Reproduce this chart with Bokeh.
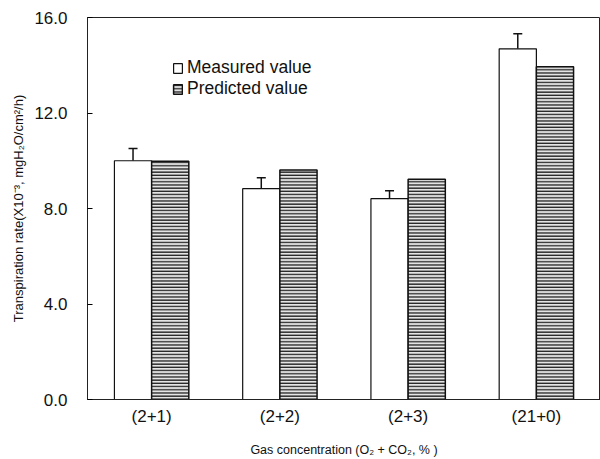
from bokeh.plotting import figure
from bokeh.models import (ColumnDataSource, Range1d, FixedTicker, Whisker, TeeHead,
                          Legend, LegendItem, PrintfTickFormatter)
from bokeh.embed import file_html
from bokeh.resources import INLINE

categories = ["(2+1)", "(2+2)", "(2+3)", "(21+0)"]
measured = [10.0, 8.83, 8.41, 14.69]
measured_err = [0.51, 0.46, 0.33, 0.63]
predicted = [9.98, 9.61, 9.23, 13.94]
y_ticks = [0, 4, 8, 12, 16]

FONT = "Liberation Sans"
idx = list(range(1, len(categories) + 1))
bw = 0.29

src_m = ColumnDataSource(dict(
    x=[i - bw / 2 for i in idx], top=measured,
    upper=[m + e for m, e in zip(measured, measured_err)]))
src_p = ColumnDataSource(dict(x=[i + bw / 2 for i in idx], top=predicted))

p = figure(width=600, height=459, output_backend="svg", toolbar_location=None,
           x_range=Range1d(0.5, 4.5), y_range=Range1d(0, 16),
           min_border_left=87, min_border_right=0, min_border_top=17, min_border_bottom=59)

p.xgrid.visible = False
p.ygrid.visible = False
p.outline_line_color = "#222222"
p.outline_line_width = 1
p.background_fill_color = "white"
p.border_fill_color = "white"

rm = p.vbar(x="x", top="top", width=bw, bottom=0, source=src_m,
            fill_color="white", line_color="#111111", line_width=1.2)
rp = p.vbar(x="x", top="top", width=bw, bottom=0, source=src_p,
            fill_color="#e4e4e4", line_color="#111111", line_width=1.5,
            hatch_pattern="horizontal_line", hatch_color="#222222",
            hatch_scale=3.2, hatch_weight=1.4)

wh = Whisker(base="x", lower="top", upper="upper", source=src_m,
             upper_head=TeeHead(size=9, line_color="#111111", line_width=1.5),
             lower_head=None, line_color="#111111", line_width=1.5)
p.add_layout(wh)

# axes
p.yaxis.ticker = FixedTicker(ticks=y_ticks)
p.yaxis.formatter = PrintfTickFormatter(format="%.1f")
p.yaxis.major_tick_in = 5
p.yaxis.major_tick_out = 0
p.yaxis.minor_tick_line_color = None
p.yaxis.major_label_standoff = 20
p.yaxis.major_label_text_font = FONT
p.yaxis.major_label_text_font_size = "17px"
p.yaxis.major_label_text_color = "#111111"
p.yaxis.axis_label = "Transpiration rate(X10\u207b\u00b3, mgH\u2082O/cm\u00b2/h)"
p.yaxis.axis_label_text_font = FONT
p.yaxis.axis_label_text_font_size = "13px"
p.yaxis.axis_label_text_font_style = "normal"
p.yaxis.axis_label_text_color = "#111111"
p.yaxis.axis_label_standoff = 5
p.yaxis.axis_line_color = "#222222"

p.xaxis.ticker = FixedTicker(ticks=idx)
p.xaxis.major_label_overrides = {i: c for i, c in zip(idx, categories)}
p.xaxis.major_tick_line_color = None
p.xaxis.major_tick_in = 0
p.xaxis.major_tick_out = 0
p.xaxis.minor_tick_line_color = None
p.xaxis.major_label_standoff = 7
p.xaxis.major_label_text_font = FONT
p.xaxis.major_label_text_font_size = "17px"
p.xaxis.major_label_text_color = "#111111"
p.xaxis.axis_label = "Gas concentration (O\u2082 + CO\u2082, % )"
p.xaxis.axis_label_text_font = FONT
p.xaxis.axis_label_text_font_size = "12.5px"
p.xaxis.axis_label_text_font_style = "normal"
p.xaxis.axis_label_text_color = "#111111"
p.xaxis.axis_label_standoff = 14
p.xaxis.axis_line_color = "#222222"

legend = Legend(items=[LegendItem(label="Measured value", renderers=[rm]),
                       LegendItem(label="Predicted value", renderers=[rp])],
                location=(85, 300), padding=0, spacing=0, margin=0,
                glyph_width=11, glyph_height=12, label_standoff=4,
                label_height=20, label_text_font=FONT, label_text_font_size="17.5px",
                label_text_color="#111111",
                border_line_color=None, background_fill_alpha=0)
p.add_layout(legend)

open("out.html", "w").write(file_html(p, INLINE))
